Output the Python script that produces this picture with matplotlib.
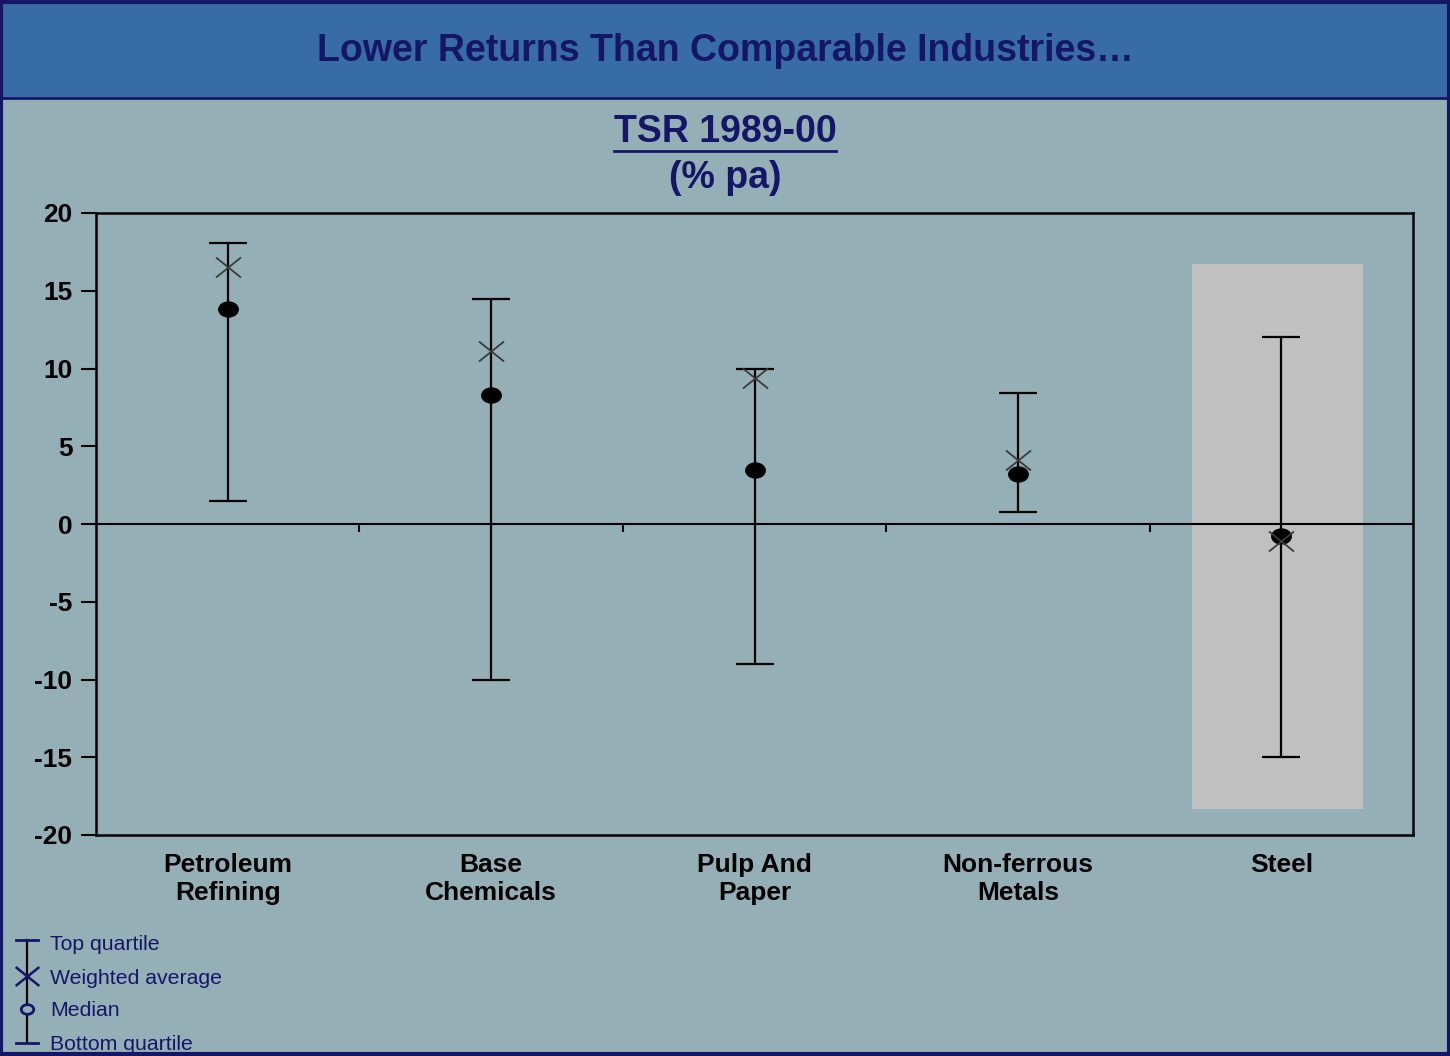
import matplotlib
matplotlib.use("Agg")
import matplotlib.pyplot as plt
import numpy as np
from matplotlib.patches import Rectangle
from matplotlib.path import Path
from matplotlib.lines import Line2D

plt.rcParams['font.family'] = ['Liberation Sans', 'DejaVu Sans']

# data (TSR 1989-00, % pa)
categories = ["Petroleum\nRefining", "Base\nChemicals", "Pulp And\nPaper",
              "Non-ferrous\nMetals", "Steel"]
top_quartile = [18.1, 14.5, 10.0, 8.4, 12.0]
weighted_avg = [16.5, 11.1, 9.4, 4.1, -1.1]
median = [13.8, 8.3, 3.5, 3.2, -0.8]
bottom_quartile = [1.5, -10.0, -9.0, 0.8, -15.0]
yticks = [-20, -15, -10, -5, 0, 5, 10, 15, 20]
highlight = "Steel"

navy = '#161668'
bg = '#94b0b6'
header = '#386ca6'

W, H = 1450, 1056
fig = plt.figure(figsize=(W / 100, H / 100), dpi=100, facecolor=bg)

# header band and frame
fig.patches.append(Rectangle((0, 1 - 98 / H), 1, 98 / H, transform=fig.transFigure,
                             facecolor=header, edgecolor=navy, lw=2, zorder=0))
fig.patches.append(Rectangle((0.001, 0.0015), 0.998, 0.997, transform=fig.transFigure,
                             fill=False, edgecolor=navy, lw=3, zorder=5))
fig.text(0.5, 1 - 51 / H, "Lower Returns Than Comparable Industries\u2026",
         ha='center', va='center', fontsize=27, fontweight='bold', color=navy)

sub = fig.text(0.5, 1 - 132 / H, "TSR 1989-00", ha='center', va='center',
               fontsize=27, fontweight='bold', color=navy)
fig.text(0.5, 1 - 178 / H, "(% pa)", ha='center', va='center',
         fontsize=27, fontweight='bold', color=navy)

# custom markers
ell = Path.unit_circle()
ell = Path(ell.vertices * np.array([1.3, 1.0]), ell.codes)
xmark = Path([(-1.25, -1), (1.25, 1), (-1.25, 1), (1.25, -1)],
             [Path.MOVETO, Path.LINETO, Path.MOVETO, Path.LINETO])

ax = fig.add_axes([96 / W, (H - 835) / H, 1317 / W, 622 / H])
ax.set_facecolor('none')
x = np.arange(len(categories))

hi = categories.index(highlight)
ax.add_patch(Rectangle((hi - 0.34, -18.3), 0.65, 35.0, facecolor='#c0c0c0',
                       edgecolor='none', zorder=1))

ax.axhline(0, color='black', lw=1.5, zorder=2)
ax.vlines(np.arange(len(categories) - 1) + 0.5, -0.5, 0, color='black', lw=1.5, zorder=2)

tq = np.array(top_quartile)
bq = np.array(bottom_quartile)
mid = (tq + bq) / 2
eb = ax.errorbar(x, mid, yerr=(tq - bq) / 2, fmt='none', ecolor='black',
                 elinewidth=1.6, capsize=14, capthick=1.6, zorder=3)
for cl in eb[1]:
    cl.set_color('#1c1c8a')

ax.plot(x, median, linestyle='none', marker=ell, markersize=14,
        color='black', zorder=4)
ax.plot(x, weighted_avg, linestyle='none', marker=xmark, markersize=18,
        markerfacecolor='none', markeredgecolor='#3a3a3a', markeredgewidth=1.3, zorder=5)

ax.set_xlim(-0.5, len(categories) - 0.5)
ax.set_ylim(-20, 20)
ax.set_yticks(yticks)
ax.set_yticklabels([str(v) for v in yticks], fontsize=19, fontweight='bold')
ax.set_xticks(x)
ax.set_xticklabels(categories, fontsize=19, fontweight='bold', linespacing=1.2)
ax.tick_params(axis='x', length=0, pad=13)
ax.tick_params(axis='y', length=11, width=1.5, direction='out', pad=6)
for s in ax.spines.values():
    s.set_linewidth(1.8)
    s.set_color('black')

# legend drawn by hand
lax = fig.add_axes([0, 0, 300 / W, (H - 925) / H])
lax.set_xlim(0, 300)
lax.set_ylim(H, 925)
lax.axis('off')
lax.plot([27, 27], [940, 1043], color='black', lw=1.6)
lax.plot([16, 38], [940, 940], color=navy, lw=2)
lax.plot([16, 38], [1043, 1043], color=navy, lw=2)
lax.plot([27], [976], marker=xmark, markersize=17, markerfacecolor='none',
         markeredgecolor=navy, markeredgewidth=1.8)
lax.plot([27], [1009], marker=ell, markersize=9, markerfacecolor=bg,
         markeredgecolor=navy, markeredgewidth=2)
legend_labels = ["Top quartile", "Weighted average", "Median", "Bottom quartile"]
legend_y = [944, 978, 1011, 1044]
for lab, ly in zip(legend_labels, legend_y):
    lax.text(50, ly, lab, fontsize=15.3, color=navy, va='center', ha='left')

# underline the subtitle
fig.canvas.draw()
bb = sub.get_window_extent()
fig.lines.append(Line2D([bb.x0 / W, bb.x1 / W], [(bb.y0 - 1) / H, (bb.y0 - 1) / H],
                        transform=fig.transFigure, color=navy, lw=2))

fig.savefig("out.png", dpi=100, facecolor=bg)
